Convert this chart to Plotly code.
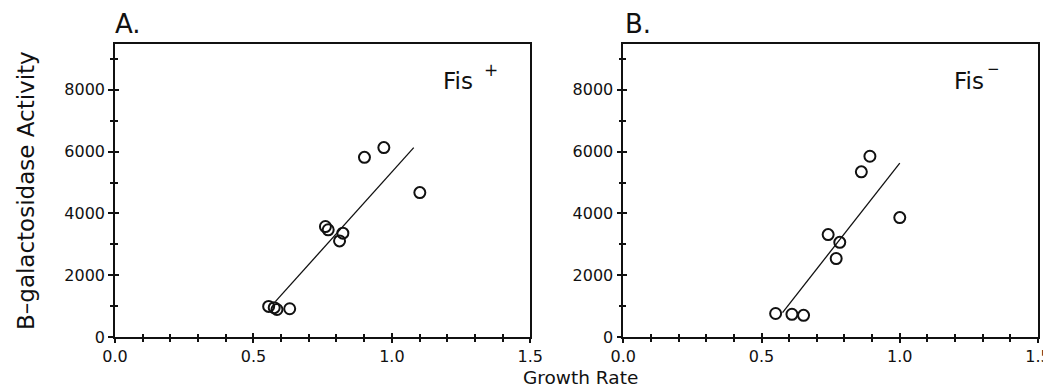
import plotly.graph_objects as go

# ---- data ----
growth_A = [0.555, 0.575, 0.585, 0.631, 0.760, 0.770, 0.823, 0.811, 0.901, 0.971, 1.101]
activity_A = [990, 950, 890, 915, 3575, 3470, 3360, 3110, 5815, 6130, 4675]
fit_growth_A = [0.579, 1.079]
fit_activity_A = [1145, 6128]

growth_B = [0.551, 0.610, 0.652, 0.741, 0.783, 0.770, 0.861, 0.892, 1.000]
activity_B = [760, 735, 700, 3315, 3065, 2540, 5345, 5850, 3865]
fit_growth_B = [0.576, 1.000]
fit_activity_B = [790, 5630]

panel_labels = ["A.", "B."]
strain_labels = ["Fis", "Fis"]
strain_marks = ["+", "\u2212"]
x_title = "Growth Rate"
y_title = "B\u2013galactosidase Activity"

# page is 1051x389; the browser body margin shifts the figure by 8 px
OFF = 8
W, H = 1051 - OFF, 389 - OFF
FONT = "DejaVu Sans"
INK = "#111111"

def fx_(p):  # page x pixel -> paper fraction
    return (p - OFF) / W

def fy_(p):  # page y pixel -> paper fraction (from bottom)
    return 1 - (p - OFF) / H

fig = go.Figure()

def add_panel(xs, ys, fx, fy, xa, ya):
    fig.add_trace(go.Scatter(x=fx, y=fy, mode="lines", xaxis=xa, yaxis=ya,
                             line=dict(color=INK, width=1.3), showlegend=False, hoverinfo="skip"))
    fig.add_trace(go.Scatter(x=xs, y=ys, mode="markers", xaxis=xa, yaxis=ya,
                             marker=dict(symbol="circle-open", size=11, color=INK,
                                         line=dict(width=2, color=INK)),
                             showlegend=False))

add_panel(growth_A, activity_A, fit_growth_A, fit_activity_A, "x", "y")
add_panel(growth_B, activity_B, fit_growth_B, fit_activity_B, "x2", "y2")
# empty traces so the overlay (inside-tick) axes are drawn
fig.add_trace(go.Scatter(x=[], y=[], xaxis="x3", yaxis="y3", showlegend=False))
fig.add_trace(go.Scatter(x=[], y=[], xaxis="x4", yaxis="y4", showlegend=False))

ydom = [fy_(337), fy_(43.5)]
xdomA = [fx_(115), fx_(530.3)]
xdomB = [fx_(623.3), fx_(1038)]

def xaxis_main(dom, anchor):
    return dict(domain=dom, anchor=anchor, range=[0, 1.5], tickmode="linear", tick0=0, dtick=0.5,
                tickformat=".1f", ticks="outside", ticklen=4, tickwidth=1.5, tickcolor=INK,
                minor=dict(tickmode="linear", tick0=0, dtick=0.1, ticks="outside", ticklen=3,
                           tickwidth=1.5, tickcolor=INK),
                showline=True, linewidth=1.6, linecolor=INK, mirror=True,
                showgrid=False, zeroline=False, automargin=False,
                tickfont=dict(family=FONT, size=16, color=INK))

def yaxis_main(anchor):
    return dict(domain=ydom, anchor=anchor, range=[0, 9500], tickmode="linear", tick0=0, dtick=2000,
                ticks="outside", ticklen=5, tickwidth=1.5, tickcolor=INK,
                minor=dict(tickmode="linear", tick0=0, dtick=1000, ticks="outside", ticklen=3,
                           tickwidth=1.5, tickcolor=INK),
                showline=True, linewidth=1.6, linecolor=INK, mirror=True,
                showgrid=False, zeroline=False, automargin=False,
                tickfont=dict(family=FONT, size=16, color=INK))

def xaxis_inside(over, anchor):
    return dict(overlaying=over, anchor=anchor, range=[0, 1.5], tickmode="linear", tick0=0, dtick=0.5,
                ticks="inside", ticklen=4, tickwidth=1.5, tickcolor=INK,
                minor=dict(tickmode="linear", tick0=0, dtick=0.1, ticks="inside", ticklen=3,
                           tickwidth=1.5, tickcolor=INK),
                showticklabels=False, showline=False, showgrid=False, zeroline=False,
                automargin=False)

def yaxis_inside(over, anchor):
    return dict(overlaying=over, anchor=anchor, range=[0, 9500], tickmode="linear", tick0=0, dtick=2000,
                ticks="inside", ticklen=4, tickwidth=1.5, tickcolor=INK,
                minor=dict(tickmode="linear", tick0=0, dtick=1000, ticks="inside", ticklen=3,
                           tickwidth=1.5, tickcolor=INK),
                showticklabels=False, showline=False, showgrid=False, zeroline=False,
                automargin=False)

fig.update_layout(
    width=W, height=H,
    margin=dict(l=0, r=0, t=0, b=0, autoexpand=False),
    paper_bgcolor="white", plot_bgcolor="white",
    xaxis=xaxis_main(xdomA, "y"),
    yaxis=yaxis_main("x"),
    xaxis2=xaxis_main(xdomB, "y2"),
    yaxis2=yaxis_main("x2"),
    xaxis3=xaxis_inside("x", "y3"),
    yaxis3=yaxis_inside("y", "x3"),
    xaxis4=xaxis_inside("x2", "y4"),
    yaxis4=yaxis_inside("y2", "x4"),
    showlegend=False,
)

def ann(text, px, py, size, xanchor="left", yanchor="middle", angle=0):
    fig.add_annotation(text=text, x=fx_(px), y=fy_(py), xref="paper", yref="paper",
                       xanchor=xanchor, yanchor=yanchor, showarrow=False, textangle=angle,
                       borderpad=0, font=dict(family=FONT, size=size, color=INK))

ann(panel_labels[0], 114, 24, 26)
ann(panel_labels[1], 624, 24, 26)
ann(strain_labels[0], 442, 81, 23)
ann(strain_marks[0], 491, 70, 17, xanchor="center")
ann(strain_labels[1], 953, 81, 23)
ann(strain_marks[1], 993, 69, 15, xanchor="center")
ann(x_title, 580, 388.5, 18.5, xanchor="center", yanchor="bottom")
ann(y_title, 26, 191, 23, xanchor="center", angle=-90)

fig.write_html("out.html")
